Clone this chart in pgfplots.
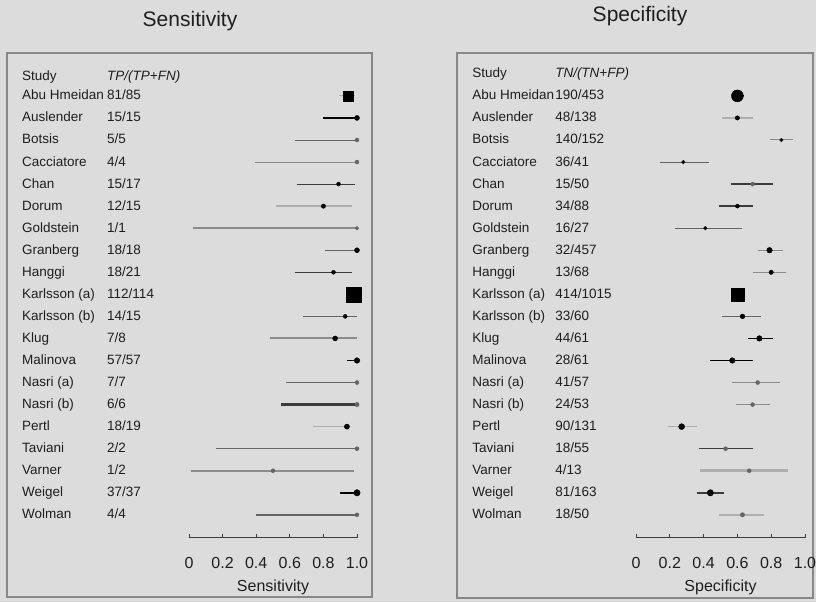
\documentclass[border=0pt]{standalone}
\usepackage{fontspec}
\setmainfont{Liberation Sans}
\usepackage{pgfplots}
\pgfplotsset{compat=1.18}
\definecolor{bg}{RGB}{220,220,220}
\definecolor{framec}{RGB}{135,135,135}
\definecolor{txt}{RGB}{30,30,30}
\definecolor{g1}{RGB}{60,60,60}
\definecolor{g2}{RGB}{100,100,100}
\definecolor{g3}{RGB}{140,140,140}
\definecolor{g4}{RGB}{175,175,175}

\newcommand{\study}[6]{%
  \addplot[#5] coordinates {(#3,#1) (#4,#1)};
  \addplot[#6] coordinates {(#2,#1)};
}
\newcommand{\row}[3]{%
  \node[rowtext] at (axis cs:\namex,#1) {#2};
  \node[rowtext] at (axis cs:\countx,#1) {#3};
}
\tikzset{rowtext/.style={anchor=base west, inner sep=0pt, yshift=-4pt,
  font=\fontsize{13.5}{15}\selectfont, text=txt}}
\pgfplotsset{
  dot/.style={only marks, mark=*, mark size=#1, black},
  dot/.default=2pt,
  gdot/.style={only marks, mark=*, mark size=#1, g2},
  gdot/.default=2pt,
  sq/.style={only marks, mark=square*, mark size=#1, black},
  fp/.style={
    y=22.05pt, xmin=0, xmax=1, ymin=-0.05, ymax=21.5,
    axis x line=bottom, axis y line=none, clip=false,
    xtick={0,0.2,0.4,0.6,0.8,1}, xticklabels={0,0.2,0.4,0.6,0.8,1.0},
    tick align=inside, major tick length=4pt,
    tick style={g1, line width=0.8pt},
    axis line style={-, g1, line width=1pt},
    xticklabel style={font=\fontsize{16}{18}\selectfont, anchor=center, yshift=-25pt, text=txt},
    xlabel style={font=\fontsize{16}{18}\selectfont, at={(axis description cs:0.5,0)}, anchor=base, yshift=-53pt, text=txt},
    anchor=south west,
  }
}

\begin{document}
\begin{tikzpicture}
\useasboundingbox (0pt,0pt) rectangle (816pt,602pt);
\fill[bg] (0pt,0pt) rectangle (816pt,602pt);
\draw[framec, line width=1.5pt] (7pt,5pt) rectangle (372pt,549pt);
\draw[framec, line width=1.5pt] (457pt,4pt) rectangle (813pt,549pt);
\node[anchor=base, text=txt, font=\fontsize{21}{24}\selectfont] at (190pt,575pt) {Sensitivity};
\node[anchor=base, text=txt, font=\fontsize{21}{24}\selectfont] at (640pt,580pt) {Specificity};

\def\namex{-0.994}\def\countx{-0.488}
\begin{axis}[fp, at={(189pt,64pt)}, x=168pt, xlabel={Sensitivity}]
\row{20.86}{Study}{\itshape TP/(TP+FN)}
\row{20}{Abu Hmeidan}{81/85}
\row{19}{Auslender}{15/15}
\row{18}{Botsis}{5/5}
\row{17}{Cacciatore}{4/4}
\row{16}{Chan}{15/17}
\row{15}{Dorum}{12/15}
\row{14}{Goldstein}{1/1}
\row{13}{Granberg}{18/18}
\row{12}{Hanggi}{18/21}
\row{11}{Karlsson (a)}{112/114}
\row{10}{Karlsson (b)}{14/15}
\row{9}{Klug}{7/8}
\row{8}{Malinova}{57/57}
\row{7}{Nasri (a)}{7/7}
\row{6}{Nasri (b)}{6/6}
\row{5}{Pertl}{18/19}
\row{4}{Taviani}{2/2}
\row{3}{Varner}{1/2}
\row{2}{Weigel}{37/37}
\row{1}{Wolman}{4/4}
\study{20}{0.95}{0.89}{0.99}{g4, line width=0.8pt}{sq=5pt}
\study{19}{1.0}{0.80}{1.0}{black, line width=1.2pt}{dot=2.5pt}
\study{18}{1.0}{0.63}{1.0}{g2, line width=0.9pt}{gdot=2pt}
\study{17}{1.0}{0.39}{1.0}{g3, line width=0.9pt}{gdot=2pt}
\study{16}{0.89}{0.64}{0.99}{g1, line width=0.8pt}{dot=2pt}
\study{15}{0.80}{0.52}{0.97}{g4, line width=1.3pt}{dot=2.2pt}
\study{14}{1.0}{0.025}{1.0}{g3, line width=1.8pt}{gdot=1.8pt}
\study{13}{1.0}{0.81}{1.0}{g2, line width=0.8pt}{dot=2.5pt}
\study{12}{0.86}{0.63}{0.97}{g1, line width=0.8pt}{dot=2pt}
\study{11}{0.98}{0.95}{1.0}{black, line width=1pt}{sq=7.5pt}
\study{10}{0.93}{0.68}{1.0}{g2, line width=1.4pt}{dot=2pt}
\study{9}{0.87}{0.48}{1.0}{g3, line width=2pt}{dot=2.5pt}
\study{8}{1.0}{0.94}{1.0}{black, line width=1.2pt}{dot=2.8pt}
\study{7}{1.0}{0.58}{1.0}{g2, line width=1pt}{gdot=2pt}
\study{6}{1.0}{0.55}{1.0}{g1, line width=2.2pt}{gdot=2.2pt}
\study{5}{0.94}{0.74}{0.96}{g4, line width=1.3pt}{dot=2.6pt}
\study{4}{1.0}{0.16}{1.0}{g2, line width=1.2pt}{gdot=2pt}
\study{3}{0.50}{0.01}{0.98}{g3, line width=2.2pt}{gdot=2pt}
\study{2}{1.0}{0.90}{1.0}{black, line width=1.5pt}{dot=3.2pt}
\study{1}{1.0}{0.40}{1.0}{g2, line width=1.6pt}{gdot=2pt}
\end{axis}

\def\namex{-0.970}\def\countx{-0.479}
\begin{axis}[fp, at={(636pt,64pt)}, x=169pt, xlabel={Specificity}]
\row{21}{Study}{\itshape TN/(TN+FP)}
\row{20}{Abu Hmeidan}{190/453}
\row{19}{Auslender}{48/138}
\row{18}{Botsis}{140/152}
\row{17}{Cacciatore}{36/41}
\row{16}{Chan}{15/50}
\row{15}{Dorum}{34/88}
\row{14}{Goldstein}{16/27}
\row{13}{Granberg}{32/457}
\row{12}{Hanggi}{13/68}
\row{11}{Karlsson (a)}{414/1015}
\row{10}{Karlsson (b)}{33/60}
\row{9}{Klug}{44/61}
\row{8}{Malinova}{28/61}
\row{7}{Nasri (a)}{41/57}
\row{6}{Nasri (b)}{24/53}
\row{5}{Pertl}{90/131}
\row{4}{Taviani}{18/55}
\row{3}{Varner}{4/13}
\row{2}{Weigel}{81/163}
\row{1}{Wolman}{18/50}
\study{20}{0.60}{0.57}{0.64}{black, line width=1pt}{only marks, mark=*, mark size=6pt, black}
\study{19}{0.60}{0.51}{0.69}{g4, line width=1.2pt}{dot=2.2pt}
\study{18}{0.86}{0.79}{0.93}{g3, line width=1pt}{dot=1.8pt}
\study{17}{0.28}{0.14}{0.43}{g2, line width=1pt}{dot=1.8pt}
\study{16}{0.69}{0.56}{0.81}{g1, line width=2pt}{gdot=2pt}
\study{15}{0.60}{0.49}{0.69}{g1, line width=1.8pt}{dot=2pt}
\study{14}{0.41}{0.23}{0.63}{g2, line width=1pt}{dot=1.8pt}
\study{13}{0.79}{0.72}{0.87}{g3, line width=1pt}{dot=2.8pt}
\study{12}{0.80}{0.69}{0.89}{g3, line width=1.2pt}{dot=2.2pt}
\study{11}{0.60}{0.58}{0.62}{black, line width=1pt}{sq=6.5pt}
\study{10}{0.63}{0.51}{0.74}{g2, line width=1pt}{dot=2.4pt}
\study{9}{0.73}{0.66}{0.81}{black, line width=1.2pt}{dot=2.8pt}
\study{8}{0.57}{0.44}{0.69}{black, line width=1.2pt}{dot=2.8pt}
\study{7}{0.72}{0.57}{0.85}{g3, line width=1pt}{gdot=2pt}
\study{6}{0.69}{0.59}{0.79}{g3, line width=1pt}{gdot=2pt}
\study{5}{0.27}{0.19}{0.36}{g4, line width=1.2pt}{dot=3pt}
\study{4}{0.53}{0.37}{0.69}{g1, line width=1.2pt}{gdot=2pt}
\study{3}{0.67}{0.38}{0.90}{g4, line width=2.5pt}{gdot=2pt}
\study{2}{0.44}{0.36}{0.52}{g1, line width=1.5pt}{dot=3.2pt}
\study{1}{0.63}{0.49}{0.76}{g4, line width=1.5pt}{gdot=2.2pt}
\end{axis}
\end{tikzpicture}
\end{document}
